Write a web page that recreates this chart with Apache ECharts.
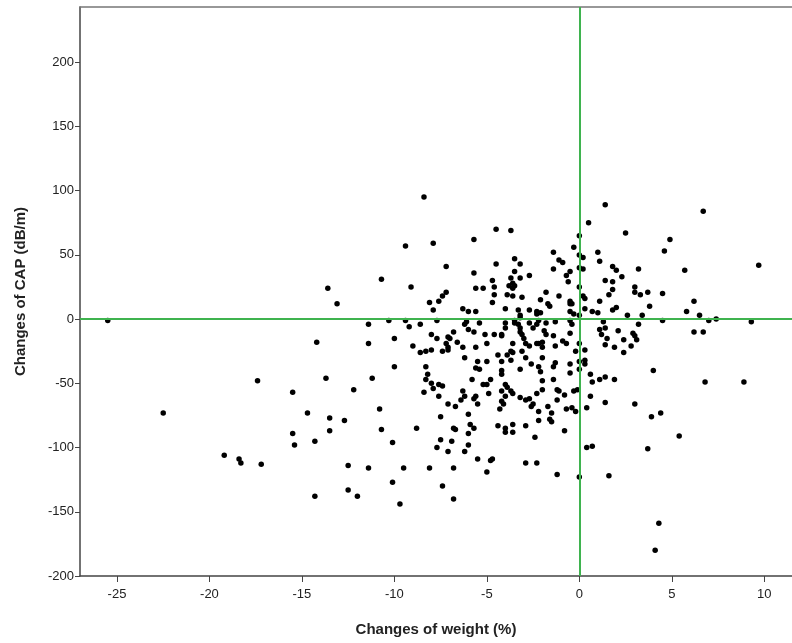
<!DOCTYPE html>
<html>
<head>
<meta charset="utf-8">
<script src="https://cdn.jsdelivr.net/npm/echarts@6/dist/echarts.min.js"></script>
<style>
  html, body { margin: 0; padding: 0; background: #fff; }
  #chart { width: 792px; height: 643px; }
</style>
</head>
<body>
<div id="chart"></div>
<script>
// tick labels
var xTicks = [-25, -20, -15, -10, -5, 0, 5, 10];
var yTicks = [-200, -150, -100, -50, 0, 50, 100, 150, 200];

// [weight change %, CAP change dB/m], split by area
var farLeftPts = [
  [-25.5,-1],[-13.6,24],[-13.1,12],[-14.2,-18],[-17.4,-48],[-13.7,-46],[-15.5,-57],[-22.5,-73],
  [-14.7,-73],[-13.5,-77],[-15.5,-89],[-13.5,-87],[-14.3,-95],[-15.4,-98],[-19.2,-106],
  [-18.4,-109],[-18.3,-112],[-17.2,-113],[-14.3,-138]
];
var lowerMidPts = [
  [-12.2,-55],[-11.2,-46],[-8.3,-47],[-8.0,-50],[-7.6,-51],[-7.4,-52],[-7.9,-54],[-8.4,-57],
  [-7.6,-60],[-5.8,-47],[-5.2,-51],[-5.0,-51],[-4.8,-47],[-6.3,-56],[-6.2,-60],[-6.4,-63],
  [-5.6,-60],[-5.7,-62],[-4.9,-58],[-5.5,-66],[-7.1,-66],[-6.7,-68],[-4.2,-56],[-4.0,-51],
  [-3.9,-53],[-3.7,-56],[-3.6,-58],[-4.0,-60],[-4.2,-64],[-4.1,-66],[-4.3,-70],[-3.2,-61],
  [-2.9,-63],[-2.7,-62],[-2.5,-66],[-2.6,-68],[-2.3,-58],[-2.0,-55],[-2.0,-48],[-1.4,-47],
  [-1.2,-55],[-1.1,-56],[-0.8,-59],[-1.2,-63],[-1.7,-68],[-1.5,-73],[-1.6,-78],[-1.5,-80],
  [-2.2,-72],[-2.2,-79],[-0.7,-70],[-0.4,-69],[-0.2,-72],[-0.3,-56],[-0.1,-55],[-0.8,-87],
  [-1.2,-121],[0,-123],[0.4,-69],[0.4,-100],[-2.4,-92],[-2.9,-83],[-3.6,-82],[-3.6,-88],
  [-4.0,-85],[-4.0,-88],[-4.4,-83],[-2.9,-112],[-2.3,-112],[-4.7,-109],[-4.8,-110],[-5.0,-119],
  [-5.5,-109],[-6.0,-98],[-6.2,-103],[-6.0,-89],[-5.9,-82],[-5.7,-85],[-6.0,-74],[-6.8,-85],
  [-6.7,-86],[-6.9,-95],[-7.5,-94],[-7.1,-103],[-7.7,-100],[-7.5,-76],[-6.8,-116],[-7.4,-130],
  [-6.8,-140],[-8.1,-116],[-8.8,-85],[-9.5,-116],[-10.1,-96],[-10.1,-127],[-9.7,-144],
  [-10.7,-86],[-10.8,-70],[-11.4,-116],[-12.5,-114],[-12.5,-133],[-12.0,-138],[-12.7,-79]
];
var lowerRightPts = [
  [0.7,-49],[1.1,-47],[1.9,-47],[6.8,-49],[8.9,-49],[0.6,-60],[1.4,-65],[3.0,-66],[3.9,-76],
  [4.4,-73],[5.4,-91],[3.7,-101],[0.7,-99],[1.6,-122],[4.3,-159],[4.1,-180],[1.4,-45],[0.6,-43]
];
var upperRightPts = [
  [1.4,89],[6.7,84],[0.5,75],[2.5,67],[4.9,62],[4.6,53],[0,65],[-0.3,56],[0.2,48],[1.0,52],
  [1.1,45],[0.2,39],[1.8,41],[2.0,38],[2.3,33],[3.2,39],[5.7,38],[9.7,42],[1.4,30],[1.8,29],
  [1.8,23],[1.6,19],[3.0,25],[3.0,21],[3.3,19],[3.7,21],[4.5,20],[6.2,14],[1.1,14],[0.3,16],
  [0.2,18],[-0.5,12],[2.0,9],[1.8,7],[3.8,10],[5.8,6],[0.3,8],[0.7,6],[1.0,5],[-0.5,6],
  [-0.3,4],[2.6,3],[3.4,3],[6.5,3],[4.5,-1],[7.0,-1],[7.4,0],[9.3,-2],[1.3,-2],[0,3],
  [-0.4,-4],[3.2,-4],[1.1,-8],[2.1,-9],[1.4,-7],[-0.5,-11],[6.2,-10],[6.7,-10],[1.2,-12],
  [1.5,-15],[2.9,-11],[3.0,-13],[3.1,-16],[2.4,-16],[1.4,-20],[1.9,-22],[2.8,-21],[2.4,-26],
  [0.3,-24],[-0.2,-25],[0.3,-32],[0.3,-35],[0,-33],[-0.5,-35],[4.0,-40],[-0.5,-42],
  [0,50],[0,40],[0,25],[0,-19],[0,-39]
];
var centerPts = [
  [-8.4,95],[-4.5,70],[-3.7,69],[-5.7,62],[-7.9,59],[-9.4,57],[-7.2,41],[-4.5,43],[-3.5,47],
  [-3.2,43],[-3.5,37],[-5.7,36],[-1.4,52],[-1.1,46],[-0.9,44],[-1.4,39],[-0.5,37],[-0.7,34],
  [-0.6,29],[-2.7,34],[-10.7,31],[-4.7,30],[-3.7,32],[-3.2,32],[-3.6,28],[-3.8,26],[-3.5,26],
  [-3.6,24],[-4.6,25],[-5.6,24],[-5.2,24],[-9.1,25],[-7.2,21],[-7.4,18],[-7.6,14],[-8.1,13],
  [-7.9,7],[-4.6,19],[-3.9,19],[-3.6,18],[-3.1,17],[-4.7,13],[-1.8,21],[-1.1,18],[-2.1,15],
  [-1.7,12],[-1.6,10],[-0.5,14],[-0.4,12],[-4.0,8],[-3.3,7],[-2.7,7],[-2.3,6],[-2.1,5],
  [-2.3,4],[-6.3,8],[-6.0,6],[-5.6,6],[-3.2,3],[-3.5,-1],[-3.2,1],[-10.3,-1],[-9.4,-1],
  [-7.7,-1],[-9.2,-6],[-8.6,-4],[-11.4,-4],[-11.4,-19],[-10.0,-15],[-9.0,-21],[-10.0,-37],
  [-6.2,-4],[-6.1,-2],[-5.4,-3],[-5.7,-10],[-6.0,-8],[-6.8,-10],[-8.0,-12],[-7.7,-15],
  [-7.1,-14],[-7.0,-15],[-7.2,-19],[-6.6,-18],[-6.3,-22],[-7.1,-22],[-7.4,-25],[-7.1,-24],
  [-8.6,-26],[-8.3,-25],[-8.0,-24],[-6.2,-30],[-5.6,-22],[-5.1,-12],[-5.0,-19],[-4.6,-12],
  [-4.2,-12],[-4.0,-3],[-4.0,-7],[-3.5,-3],[-3.3,-4],[-3.2,-7],[-3.2,-10],[-3.1,-12],
  [-3.0,-15],[-2.9,-19],[-2.7,-3],[-2.5,-7],[-2.3,-4],[-2.2,-1],[-1.8,-3],[-1.3,-2],
  [-0.5,-1],[-3.6,-19],[-4.2,-13],[-3.7,-25],[-3.6,-26],[-3.9,-28],[-4.2,-33],[-4.4,-28],
  [-3.7,-32],[-3.1,-25],[-2.9,-30],[-2.7,-21],[-2.3,-19],[-2.2,-19],[-2.0,-18],[-2.0,-22],
  [-1.4,-13],[-1.3,-21],[-0.9,-17],[-0.7,-19],[-1.9,-9],[-1.8,-12],[-2.6,-35],[-2.2,-37],
  [-2.1,-41],[-1.3,-34],[-1.4,-37],[-3.2,-39],[-4.2,-40],[-4.2,-43],[-5.6,-38],[-5.4,-39],
  [-5.0,-33],[-5.5,-33],[-8.3,-37],[-8.2,-43],[-2.0,-30]
];

var allPts = [].concat(farLeftPts, lowerMidPts, lowerRightPts, upperRightPts, centerPts);

var axisFont = { fontFamily: 'Liberation Sans, Arial, sans-serif', fontSize: 13, color: '#222' };
var titleFont = { fontFamily: 'Liberation Sans, Arial, sans-serif', fontSize: 15, fontWeight: 'bold', color: '#222' };

var chart = echarts.init(document.getElementById('chart'));
chart.setOption({
  animation: false,
  backgroundColor: '#fff',
  grid: { left: 80, right: 0, top: 7, bottom: 67 },
  xAxis: [{
    type: 'value',
    min: -27, max: 11.5,
    name: 'Changes of weight (%)',
    nameLocation: 'middle',
    nameGap: 46,
    nameTextStyle: titleFont,
    axisLine: { show: true, onZero: false, lineStyle: { color: '#444', width: 1.5 } },
    axisTick: { show: true, length: 6, customValues: xTicks, lineStyle: { color: '#444' } },
    axisLabel: Object.assign({ customValues: xTicks, margin: 12 }, axisFont),
    splitLine: { show: false }
  }, {
    // top frame line only
    type: 'value',
    position: 'top',
    min: -27, max: 11.5,
    axisLine: { show: true, onZero: false, lineStyle: { color: '#777', width: 1.5 } },
    axisTick: { show: false },
    axisLabel: { show: false },
    splitLine: { show: false }
  }],
  yAxis: {
    type: 'value',
    min: -200, max: 243,
    name: 'Changes of CAP (dB/m)',
    nameLocation: 'middle',
    nameGap: 52,
    nameTextStyle: titleFont,
    axisLine: { show: true, onZero: false, lineStyle: { color: '#444', width: 1.5 } },
    axisTick: { show: true, length: 5, customValues: yTicks, lineStyle: { color: '#444' } },
    axisLabel: Object.assign({ customValues: yTicks, margin: 6 }, axisFont),
    splitLine: { show: false }
  },
  series: [{
    type: 'scatter',
    xAxisIndex: 0,
    data: allPts,
    symbolSize: 5.5,
    itemStyle: { color: '#000', opacity: 1 },
    markLine: {
      silent: true,
      symbol: 'none',
      label: { show: false },
      lineStyle: { color: '#3fb34f', width: 2, type: 'solid' },
      data: [{ xAxis: 0 }, { yAxis: 0 }]
    }
  }]
});
</script>
</body>
</html>
